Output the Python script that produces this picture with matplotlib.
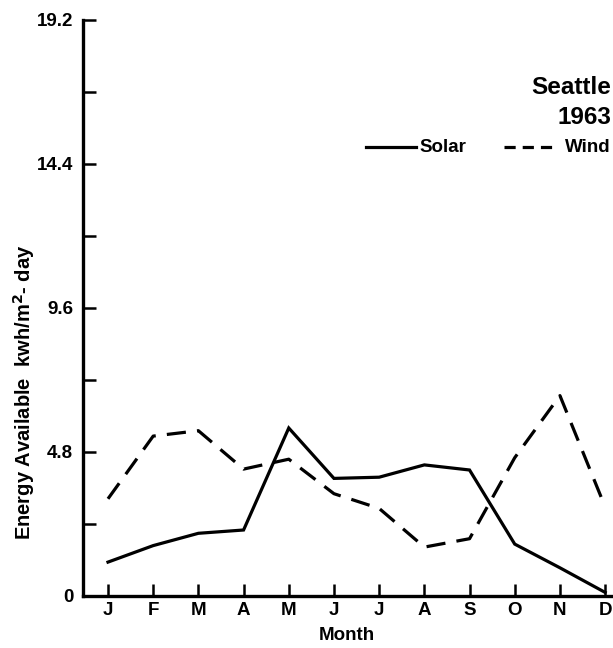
import matplotlib
matplotlib.use("Agg")
import matplotlib.pyplot as plt
from matplotlib.ticker import MultipleLocator

months = ["J", "F", "M", "A", "M", "J", "J", "A", "S", "O", "N", "D"]
solar = [1.13, 1.68, 2.09, 2.2, 5.6, 3.92, 3.96, 4.37, 4.2, 1.73, 0.94, 0.12]
wind = [3.24, 5.33, 5.51, 4.23, 4.56, 3.41, 2.92, 1.63, 1.91, 4.61, 6.68, 2.97]
yticks = [0, 4.8, 9.6, 14.4, 19.2]
ytick_labels = ["0", "4.8", "9.6", "14.4", "19.2"]

plt.rcParams['font.family'] = ['Liberation Sans', 'DejaVu Sans']
plt.rcParams['font.weight'] = 'bold'
plt.rcParams['mathtext.default'] = 'bf'

fig = plt.figure(figsize=(6.13, 6.48), dpi=100)
ax = fig.add_axes([83/613, 52/648, 528/613, 576/648])

x = list(range(len(months)))
ax.plot(x, solar, color='black', lw=2.3, solid_joinstyle='miter')
ax.plot(x, wind, color='black', lw=2.3, dashes=(6, 3.5))

ax.set_xlim(-0.553, 11.13)
ax.set_ylim(0, 19.2)
ax.set_xticks(x)
ax.set_xticklabels(months, fontsize=13.5, fontweight='bold')
ax.set_yticks(yticks)
ax.set_yticklabels(ytick_labels, fontsize=13.5, fontweight='bold')
ax.yaxis.set_minor_locator(MultipleLocator(2.4))
ax.tick_params(axis='both', which='both', direction='in', length=9, width=1.8)
ax.tick_params(axis='y', pad=7)
ax.tick_params(axis='x', pad=4)

for s in ['top', 'right']:
    ax.spines[s].set_visible(False)
for s in ['left', 'bottom']:
    ax.spines[s].set_linewidth(2.4)

ax.set_xlabel("Month", fontsize=13.5, fontweight='bold', labelpad=6)
fig.text(24/613, 1 - 392/648, "Energy Available  kwh/m$^{2}$- day", rotation=90,
         ha='center', va='center', fontsize=14.5, fontweight='bold')

fig.text(611/613, 1 - 87/648, "Seattle", ha='right', va='center', fontsize=17.5, fontweight='bold')
fig.text(611/613, 1 - 117/648, "1963", ha='right', va='center', fontsize=17.5, fontweight='bold')

# legend
ly = 1 - 147/648
fig.add_artist(plt.Line2D([366/613, 416/613], [ly, ly], color='black', lw=2.3, transform=fig.transFigure))
fig.text(419/613, ly, "Solar", ha='left', va='center', fontsize=13.5, fontweight='bold')
fig.add_artist(plt.Line2D([504/613, 553/613], [ly, ly], color='black', lw=2.3, dashes=(3.5, 2.2),
                          transform=fig.transFigure))
fig.text(611/613, ly, "Wind", ha='right', va='center', fontsize=13.5, fontweight='bold')

fig.savefig("out.png", dpi=100)
